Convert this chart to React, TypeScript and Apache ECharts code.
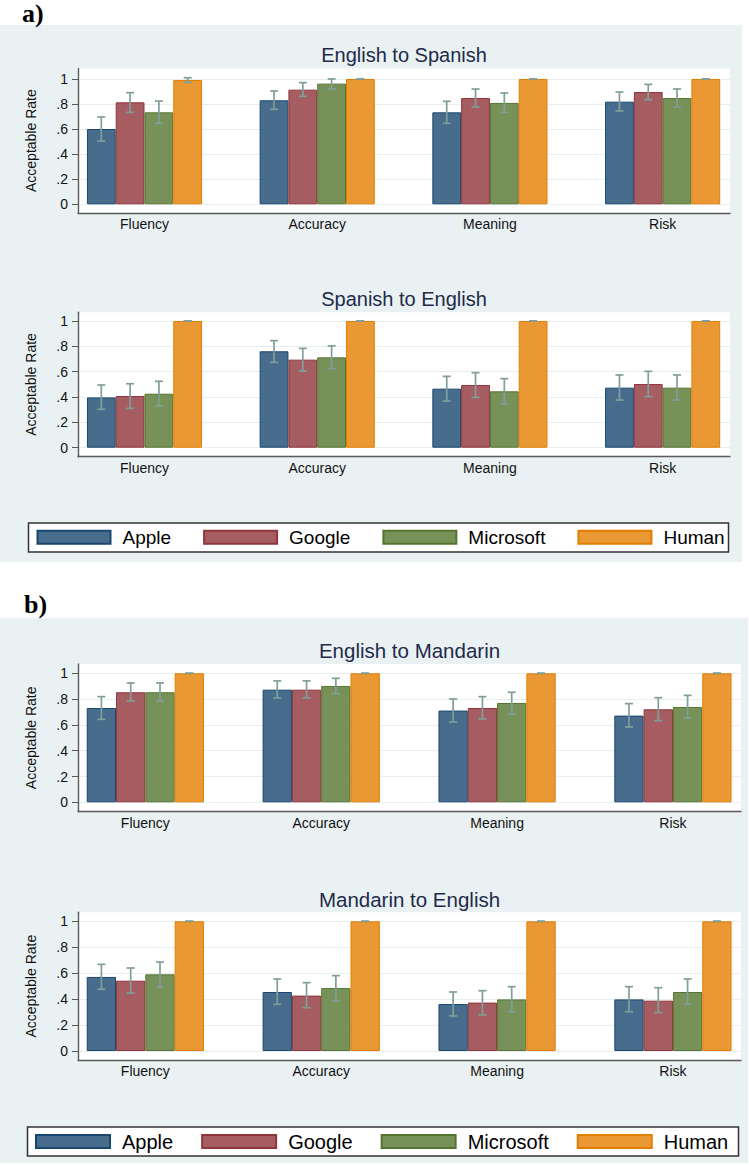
import React, { useEffect, useRef } from 'react';
import * as echarts from 'echarts';

// ---------- data ----------
const categories = ['Fluency', 'Accuracy', 'Meaning', 'Risk'];
const providers = ['Apple', 'Google', 'Microsoft', 'Human'];
const chartTitles = ['English to Spanish', 'Spanish to English', 'English to Mandarin', 'Mandarin to English'];
const yTickValues = [0, 0.2, 0.4, 0.6, 0.8, 1];
const yTickLabels = ['0', '.2', '.4', '.6', '.8', '1'];
const yAxisTitle = 'Acceptable Rate';
const panelLabels = ['a)', 'b)'];

// rows: Apple, Google, Microsoft, Human ; columns: Fluency, Accuracy, Meaning, Risk
const enEsMean = [
  [0.601, 0.830, 0.734, 0.819],
  [0.814, 0.915, 0.848, 0.896],
  [0.734, 0.963, 0.809, 0.848],
  [0.992, 1.0, 1.0, 1.0],
];
const enEsLow = [
  [0.505, 0.758, 0.646, 0.745],
  [0.734, 0.862, 0.777, 0.835],
  [0.646, 0.920, 0.734, 0.777],
  [0.973, 1.0, 1.0, 1.0],
];
const enEsHigh = [
  [0.697, 0.904, 0.822, 0.896],
  [0.891, 0.971, 0.920, 0.957],
  [0.824, 1.0, 0.888, 0.920],
  [1.01, 1.0, 1.0, 1.0],
];

const esEnMean = [
  [0.397, 0.761, 0.466, 0.474],
  [0.408, 0.695, 0.495, 0.503],
  [0.426, 0.713, 0.445, 0.474],
  [1.0, 1.0, 1.0, 1.0],
];
const esEnLow = [
  [0.303, 0.674, 0.368, 0.376],
  [0.311, 0.605, 0.397, 0.403],
  [0.329, 0.624, 0.347, 0.376],
  [1.0, 1.0, 1.0, 1.0],
];
const esEnHigh = [
  [0.495, 0.845, 0.563, 0.574],
  [0.505, 0.784, 0.592, 0.603],
  [0.524, 0.803, 0.545, 0.574],
  [1.0, 1.0, 1.0, 1.0],
];

const enZhMean = [
  [0.731, 0.873, 0.711, 0.672],
  [0.853, 0.873, 0.731, 0.721],
  [0.853, 0.902, 0.770, 0.739],
  [1.0, 1.0, 1.0, 1.0],
];
const enZhLow = [
  [0.643, 0.809, 0.623, 0.584],
  [0.786, 0.809, 0.646, 0.633],
  [0.786, 0.842, 0.685, 0.654],
  [1.0, 1.0, 1.0, 1.0],
];
const enZhHigh = [
  [0.819, 0.941, 0.801, 0.765],
  [0.925, 0.941, 0.819, 0.811],
  [0.925, 0.961, 0.853, 0.829],
  [1.0, 1.0, 1.0, 1.0],
];

const zhEnMean = [
  [0.571, 0.455, 0.362, 0.398],
  [0.542, 0.427, 0.373, 0.388],
  [0.591, 0.486, 0.398, 0.455],
  [1.0, 1.0, 1.0, 1.0],
];
const zhEnLow = [
  [0.476, 0.360, 0.270, 0.303],
  [0.447, 0.334, 0.278, 0.296],
  [0.494, 0.386, 0.303, 0.360],
  [1.0, 1.0, 1.0, 1.0],
];
const zhEnHigh = [
  [0.668, 0.555, 0.455, 0.496],
  [0.640, 0.527, 0.465, 0.488],
  [0.686, 0.581, 0.496, 0.555],
  [1.0, 1.0, 1.0, 1.0],
];

const chartMeans = [enEsMean, esEnMean, enZhMean, zhEnMean];
const chartLows = [enEsLow, esEnLow, enZhLow, zhEnLow];
const chartHighs = [enEsHigh, esEnHigh, enZhHigh, zhEnHigh];

// ---------- styles / layout ----------
const FONT = '"Liberation Sans", Arial, Helvetica, sans-serif';
const SERIF = '"Liberation Serif", "Times New Roman", Times, serif';
const fills = ['#486c8c', '#a65d62', '#779159', '#e99833'];
const borders = ['#1a476f', '#90353b', '#55752f', '#e37e00'];
const ciColor = '#809e9a';
const bgColor = '#e9f1f3';
const gridLineColor = '#e6eef0';
const axisColor = '#5a5a5a';
const titleColor = '#1e2a4a';

const layouts = [
  { left: 78, right: 730, top: 68.5, y1: 79, y0: 204.3, axis: 212.8, xMin: -0.385, xMax: 3.39, titleY: 55, titleSize: 20 },
  { left: 78, right: 730, top: 312.3, y1: 321, y0: 447.7, axis: 456.7, xMin: -0.385, xMax: 3.39, titleY: 299, titleSize: 20 },
  { left: 78, right: 741, top: 664, y1: 673.3, y0: 802.3, axis: 811.7, xMin: -0.383, xMax: 3.387, titleY: 650, titleSize: 20.5 },
  { left: 78, right: 741, top: 912.3, y1: 921.3, y0: 1051, axis: 1060, xMin: -0.383, xMax: 3.387, titleY: 899, titleSize: 20.5 },
];

const legendLayouts = [
  { boxX: 28.5, boxY: 523, boxW: 700, boxH: 29, left: 36.5, centerY: 537.2, itemW: 73, gap: 32, fontSize: 19 },
  { boxX: 27.5, boxY: 1127, boxW: 711, boxH: 29, left: 35, centerY: 1141.5, itemW: 74, gap: 28, fontSize: 20 },
];

const panelLabelPos = [
  { x: 22, y: 13 },
  { x: 24, y: 604 },
];

function tickLabel(v: number): string {
  for (let i = 0; i < yTickValues.length; i++) {
    if (Math.abs(yTickValues[i] - v) < 1e-6) return yTickLabels[i];
  }
  return '';
}

function buildOption(): any {
  const grid: any[] = [];
  const xAxis: any[] = [];
  const yAxis: any[] = [];
  const series: any[] = [];
  const graphic: any[] = [];

  layouts.forEach((L, i) => {
    const unit = L.y0 - L.y1;
    grid.push({
      left: L.left,
      top: L.top,
      width: L.right - L.left,
      height: L.axis - L.top,
      show: true,
      backgroundColor: '#ffffff',
      borderWidth: 0,
    });
    xAxis.push({
      type: 'value',
      gridIndex: i,
      min: L.xMin,
      max: L.xMax,
      axisLine: { show: true, onZero: false, lineStyle: { color: axisColor, width: 1.4 } },
      axisTick: { show: false },
      splitLine: { show: false },
      axisLabel: {
        customValues: [0, 1, 2, 3],
        formatter: (v: number) => categories[Math.round(v)] ?? '',
        fontSize: 14,
        fontFamily: FONT,
        color: '#111',
        margin: 4,
      },
    });
    yAxis.push({
      type: 'value',
      gridIndex: i,
      min: -(L.axis - L.y0) / unit,
      max: 1 + (L.y1 - L.top) / unit,
      name: yAxisTitle,
      nameLocation: 'middle',
      nameRotate: 90,
      nameGap: 40,
      nameTextStyle: { fontSize: 14, fontFamily: FONT, color: '#111' },
      axisLine: { show: true, onZero: false, lineStyle: { color: axisColor, width: 1.4 } },
      axisTick: { show: true, length: 6, customValues: yTickValues, lineStyle: { color: axisColor, width: 1 } },
      axisLabel: {
        customValues: yTickValues,
        formatter: (v: number) => tickLabel(v),
        fontSize: 14,
        fontFamily: FONT,
        color: '#111',
        margin: 10,
      },
      splitLine: { show: true, lineStyle: { color: gridLineColor, width: 1 } },
    });

    const means = chartMeans[i];
    const lows = chartLows[i];
    const highs = chartHighs[i];
    providers.forEach((p, pi) => {
      series.push({
        type: 'bar',
        name: p,
        xAxisIndex: i,
        yAxisIndex: i,
        barWidth: '16.667%',
        barGap: '0%',
        data: means[pi].map((v, c) => [c, v]),
        itemStyle: { color: fills[pi], borderColor: borders[pi], borderWidth: 1 },
        emphasis: { disabled: true },
        z: 2,
      });
    });
    const ciData: number[][] = [];
    providers.forEach((_p, pi) => {
      categories.forEach((_c, ci) => {
        ciData.push([ci, pi, lows[pi][ci], highs[pi][ci]]);
      });
    });
    series.push({
      type: 'custom',
      name: 'ci-' + i,
      xAxisIndex: i,
      yAxisIndex: i,
      z: 5,
      silent: true,
      encode: { x: 0, y: [2, 3] },
      data: ciData,
      renderItem: (params: any, api: any) => {
        const x = api.value(0);
        const s = api.value(1);
        const lo = api.value(2);
        const hi = api.value(3);
        const spacing = api.size([1, 0])[0];
        const dx = ((s - 1.5) * spacing) / 6;
        const pLo = api.coord([x, lo]);
        const pHi = api.coord([x, hi]);
        const cx = pLo[0] + dx;
        const cap = 4;
        const st = { stroke: ciColor, lineWidth: 1.7 };
        return {
          type: 'group',
          children: [
            { type: 'line', shape: { x1: cx, y1: pLo[1], x2: cx, y2: pHi[1] }, style: st },
            { type: 'line', shape: { x1: cx - cap, y1: pHi[1], x2: cx + cap, y2: pHi[1] }, style: st },
            { type: 'line', shape: { x1: cx - cap, y1: pLo[1], x2: cx + cap, y2: pLo[1] }, style: st },
          ],
        };
      },
    });

    graphic.push({
      type: 'text',
      x: (L.left + L.right) / 2,
      y: L.titleY,
      silent: true,
      style: {
        text: chartTitles[i],
        fontSize: L.titleSize,
        fontFamily: FONT,
        fill: titleColor,
        align: 'center',
        verticalAlign: 'middle',
        textAlign: 'center',
        textVerticalAlign: 'middle',
      },
    });
  });

  const legend: any[] = legendLayouts.map((G) => ({
    data: providers,
    left: G.left,
    top: G.centerY - 10,
    orient: 'horizontal',
    padding: 0,
    itemWidth: G.itemW,
    itemHeight: 13,
    itemGap: G.gap,
    icon: 'rect',
    selectedMode: false,
    textStyle: { fontSize: G.fontSize, fontFamily: FONT, color: '#000', lineHeight: 20, padding: [0, 0, 0, 7] },
  }));

  legendLayouts.forEach((G) => {
    graphic.push({
      type: 'rect',
      silent: true,
      z: 0,
      shape: { x: G.boxX, y: G.boxY, width: G.boxW, height: G.boxH },
      style: { fill: '#ffffff', stroke: '#333333', lineWidth: 1.5 },
    });
  });

  panelLabels.forEach((t, k) => {
    graphic.push({
      type: 'text',
      x: panelLabelPos[k].x,
      y: panelLabelPos[k].y,
      silent: true,
      style: {
        text: t,
        font: 'bold 26px ' + SERIF,
        fill: '#000',
        align: 'left',
        verticalAlign: 'middle',
        textAlign: 'left',
        textVerticalAlign: 'middle',
      },
    });
  });

  return {
    animation: false,
    backgroundColor: 'transparent',
    grid,
    xAxis,
    yAxis,
    series,
    legend,
    graphic,
  };
}

export default function App() {
  const ref = useRef<HTMLDivElement>(null);
  useEffect(() => {
    if (!ref.current) return;
    const chart = echarts.init(ref.current, null, { renderer: 'svg', width: 749, height: 1165 });
    chart.setOption(buildOption());
    return () => {
      chart.dispose();
    };
  }, []);
  return (
    <div style={{ position: 'absolute', left: 0, top: 0, width: 749, height: 1165, background: '#ffffff', overflow: 'hidden' }}>
      <div style={{ position: 'absolute', left: 0, top: 25, width: 742, height: 537, background: bgColor }} />
      <div style={{ position: 'absolute', left: 0, top: 618, width: 748, height: 545, background: bgColor }} />
      <div ref={ref} style={{ position: 'absolute', left: 0, top: 0, width: 749, height: 1165 }} />
    </div>
  );
}
